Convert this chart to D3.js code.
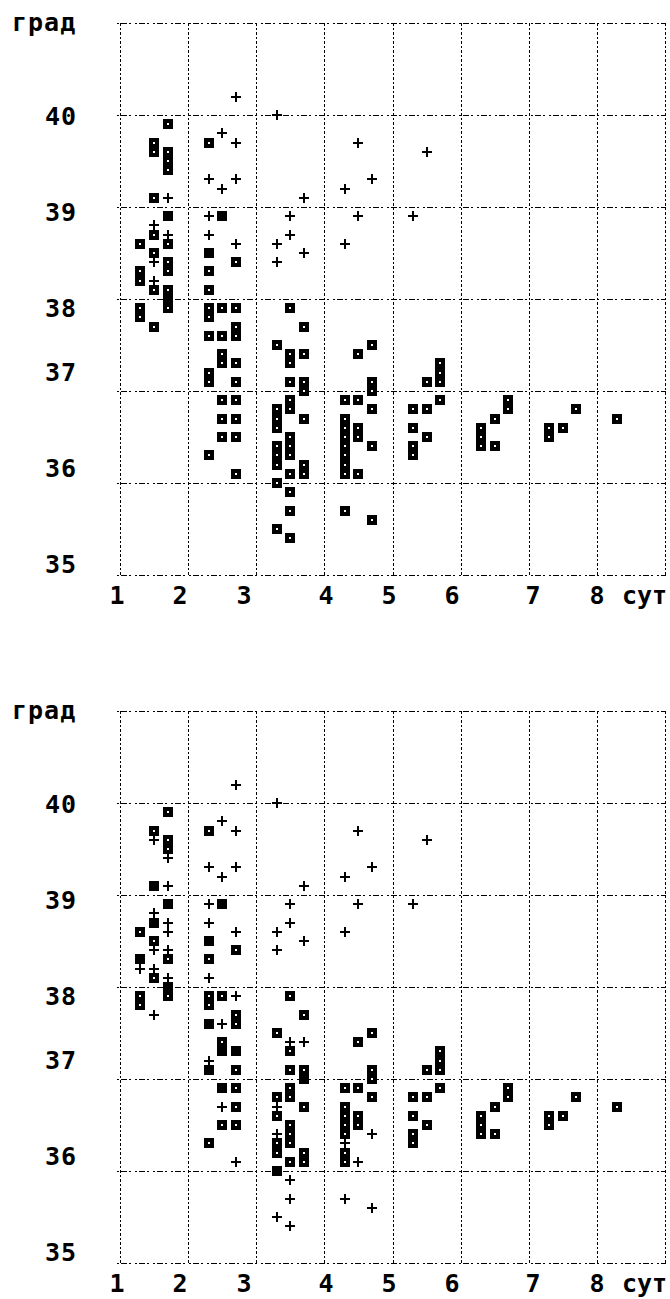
<!DOCTYPE html>
<html>
<head>
<meta charset="utf-8">
<script src="https://cdn.jsdelivr.net/npm/d3@7"></script>
<style>
body { margin: 0; background: #fff; }
text { font-family: "DejaVu Sans Mono", monospace; font-weight: bold; fill: #000; }
</style>
</head>
<body>
<svg id="chart" width="670" height="1299"></svg>
<script>
var dayTicks = [1, 2, 3, 4, 5, 6, 7, 8];
var tempTicks = [40, 39, 38, 37, 36, 35];
var xUnit = "сут";
var yUnit = "град";

// top panel: [day, temperatures]
var squaresA = [
	[1.3, [38.6, 38.3, 38.2, 37.9, 37.8]],
	[1.5, [39.7, 39.6, 39.1, 38.7, 38.5, 38.1, 37.7]],
	[1.7, [39.9, 39.6, 39.5, 39.4, 38.9, 38.6, 38.4, 38.3, 38.1, 38.0, 37.9]],
	[2.3, [39.7, 38.5, 38.3, 38.1, 37.9, 37.8, 37.6, 37.2, 37.1, 36.3]],
	[2.5, [38.9, 37.9, 37.6, 37.4, 37.3, 36.9, 36.7, 36.5]],
	[2.7, [38.4, 37.9, 37.7, 37.6, 37.3, 37.1, 36.9, 36.7, 36.5, 36.1]],
	[3.3, [37.5, 36.8, 36.7, 36.6, 36.4, 36.3, 36.2, 36.0, 35.5]],
	[3.5, [37.9, 37.4, 37.3, 37.1, 36.9, 36.8, 36.5, 36.4, 36.3, 36.1, 35.9, 35.7, 35.4]],
	[3.7, [37.7, 37.4, 37.1, 37.0, 36.7, 36.2, 36.1]],
	[4.3, [36.9, 36.7, 36.6, 36.5, 36.4, 36.3, 36.2, 36.1, 35.7]],
	[4.5, [37.4, 36.9, 36.6, 36.5, 36.1]],
	[4.7, [37.5, 37.1, 37.0, 36.8, 36.4, 35.6]],
	[5.3, [36.8, 36.6, 36.4, 36.3]],
	[5.5, [37.1, 36.8, 36.5]],
	[5.7, [37.3, 37.2, 37.1, 36.9]],
	[6.3, [36.6, 36.5, 36.4]],
	[6.5, [36.7, 36.4]],
	[6.7, [36.9, 36.8]],
	[7.3, [36.6, 36.5]],
	[7.5, [36.6]],
	[7.7, [36.8]],
	[8.3, [36.7]]
];
var plusesA = [
	[1.5, [38.8, 38.4, 38.2]],
	[1.7, [39.1, 38.9, 38.7, 38.0]],
	[2.3, [39.3, 38.9, 38.7, 38.5]],
	[2.5, [39.8, 39.2, 38.9]],
	[2.7, [40.2, 39.7, 39.3, 38.6]],
	[3.3, [40.0, 38.6, 38.4]],
	[3.5, [38.9, 38.7]],
	[3.7, [39.1, 38.5]],
	[4.3, [39.2, 38.6]],
	[4.5, [39.7, 38.9]],
	[4.7, [39.3]],
	[5.3, [38.9]],
	[5.5, [39.6]]
];

// bottom panel
var squaresB = [
	[1.3, [38.6, 38.3, 37.9, 37.8]],
	[1.5, [39.7, 39.1, 38.7, 38.5, 38.1]],
	[1.7, [39.9, 39.6, 39.5, 38.9, 38.3, 38.0, 37.9]],
	[2.3, [39.7, 38.5, 38.3, 37.9, 37.8, 37.6, 37.1, 36.3]],
	[2.5, [38.9, 37.9, 37.4, 37.3, 36.9, 36.5]],
	[2.7, [38.4, 37.7, 37.6, 37.3, 37.1, 36.9, 36.7, 36.5]],
	[3.3, [37.5, 36.8, 36.6, 36.3, 36.2, 36.0]],
	[3.5, [37.9, 37.3, 37.1, 36.9, 36.8, 36.5, 36.4, 36.3, 36.1]],
	[3.7, [37.7, 37.1, 37.0, 36.7, 36.2, 36.1]],
	[4.3, [36.9, 36.7, 36.6, 36.5, 36.4, 36.2, 36.1]],
	[4.5, [37.4, 36.9, 36.6, 36.5]],
	[4.7, [37.5, 37.1, 37.0, 36.8]],
	[5.3, [36.8, 36.6, 36.4, 36.3]],
	[5.5, [37.1, 36.8, 36.5]],
	[5.7, [37.3, 37.2, 37.1, 36.9]],
	[6.3, [36.6, 36.5, 36.4]],
	[6.5, [36.7, 36.4]],
	[6.7, [36.9, 36.8]],
	[7.3, [36.6, 36.5]],
	[7.5, [36.6]],
	[7.7, [36.8]],
	[8.3, [36.7]]
];
var plusesB = [
	[1.3, [38.3, 38.2]],
	[1.5, [39.6, 39.1, 38.8, 38.7, 38.4, 38.2, 37.7]],
	[1.7, [39.4, 39.1, 38.9, 38.7, 38.6, 38.4, 38.1, 38.0]],
	[2.3, [39.3, 38.9, 38.7, 38.5, 38.1, 37.6, 37.2, 37.1]],
	[2.5, [39.8, 39.2, 38.9, 37.6, 37.3, 36.9, 36.7]],
	[2.7, [40.2, 39.7, 39.3, 38.6, 37.9, 37.3, 36.1]],
	[3.3, [40.0, 38.6, 38.4, 36.7, 36.4, 36.0, 35.5]],
	[3.5, [38.9, 38.7, 37.4, 35.9, 35.7, 35.4]],
	[3.7, [39.1, 38.5, 37.4, 37.0]],
	[4.3, [39.2, 38.6, 36.3, 35.7]],
	[4.5, [39.7, 38.9, 36.1]],
	[4.7, [39.3, 36.4, 35.6]],
	[5.3, [38.9]],
	[5.5, [39.6]]
];

function flatten(cols) {
	var out = [];
	cols.forEach(function(c) {
		c[1].forEach(function(t) { out.push({ day: c[0], temp: t }); });
	});
	return out;
}

var svg = d3.select("#chart");
var x = d3.scaleLinear().domain([1, 9]).range([120, 665]);
// labels sit on the text rows of the old screen, not exactly on the grid
var xLabel = d3.scaleLinear().domain(dayTicks).range([117, 180, 244, 326, 389, 452, 533, 597]);
var yLabel = d3.scaleLinear().domain(tempTicks).range([93, 189, 285, 349, 445, 541]);

var panels = [
	{ top: 23, squares: flatten(squaresA), pluses: flatten(plusesA) },
	{ top: 711, squares: flatten(squaresB), pluses: flatten(plusesB) }
];

panels.forEach(function(p) {
	var y = d3.scaleLinear().domain([41, 35]).range([p.top, p.top + 552]);
	var g = svg.append("g").attr("shape-rendering", "crispEdges");

	// grid
	g.selectAll(".vline").data(d3.range(1, 10)).enter().append("line")
		.attr("x1", function(d) { return Math.round(x(d)) + 0.5; })
		.attr("x2", function(d) { return Math.round(x(d)) + 0.5; })
		.attr("y1", y(41)).attr("y2", y(35))
		.attr("stroke", "#000").attr("stroke-width", 1)
		.attr("stroke-dasharray", "3,2,2,2");
	g.selectAll(".hline").data(d3.range(35, 42)).enter().append("line")
		.attr("x1", x(1) - 3).attr("x2", x(9) + 1)
		.attr("y1", function(d) { return Math.round(y(d)) + 0.5; })
		.attr("y2", function(d) { return Math.round(y(d)) + 0.5; })
		.attr("stroke", "#000").attr("stroke-width", 1)
		.attr("stroke-dasharray", "2,2,6,2,2,4");

	// squares
	g.selectAll(".sq").data(p.squares).enter().append("rect")
		.attr("x", function(d) { return Math.round(x(d.day)) - 5; })
		.attr("y", function(d) { return Math.round(y(d.temp)) - 5; })
		.attr("width", 10).attr("height", 10)
		.attr("fill", "#000");
	g.selectAll(".dot").data(p.squares).enter().append("rect")
		.attr("x", function(d) { return Math.round(x(d.day)) - 1; })
		.attr("y", function(d) { return Math.round(y(d.temp)) - 1; })
		.attr("width", 2).attr("height", 2)
		.attr("fill", "#fff");

	// pluses
	var pl = g.selectAll(".plus").data(p.pluses).enter().append("g");
	pl.append("rect")
		.attr("x", function(d) { return Math.round(x(d.day)) - 5; })
		.attr("y", function(d) { return Math.round(y(d.temp)) - 1; })
		.attr("width", 10).attr("height", 2).attr("fill", "#000");
	pl.append("rect")
		.attr("x", function(d) { return Math.round(x(d.day)) - 1; })
		.attr("y", function(d) { return Math.round(y(d.temp)) - 5; })
		.attr("width", 2).attr("height", 10).attr("fill", "#000");

	// labels
	svg.selectAll(null).data(tempTicks).enter().append("text")
		.attr("x", 77)
		.attr("y", function(d) { return p.top + yLabel(d); })
		.attr("text-anchor", "end")
		.attr("dominant-baseline", "central")
		.attr("font-size", 25)
		.attr("letter-spacing", 1)
		.text(function(d) { return d; });
	svg.selectAll(null).data(dayTicks).enter().append("text")
		.attr("x", function(d) { return xLabel(d); })
		.attr("y", p.top + 572)
		.attr("text-anchor", "middle")
		.attr("dominant-baseline", "central")
		.attr("font-size", 25)
		.text(function(d) { return d; });
	svg.append("text")
		.attr("x", 12).attr("y", p.top - 1)
		.attr("dominant-baseline", "central")
		.attr("font-size", 25)
		.attr("letter-spacing", 1)
		.text(yUnit);
	svg.append("text")
		.attr("x", 622).attr("y", p.top + 572)
		.attr("dominant-baseline", "central")
		.attr("font-size", 25)
		.text(xUnit);
});
</script>
</body>
</html>
